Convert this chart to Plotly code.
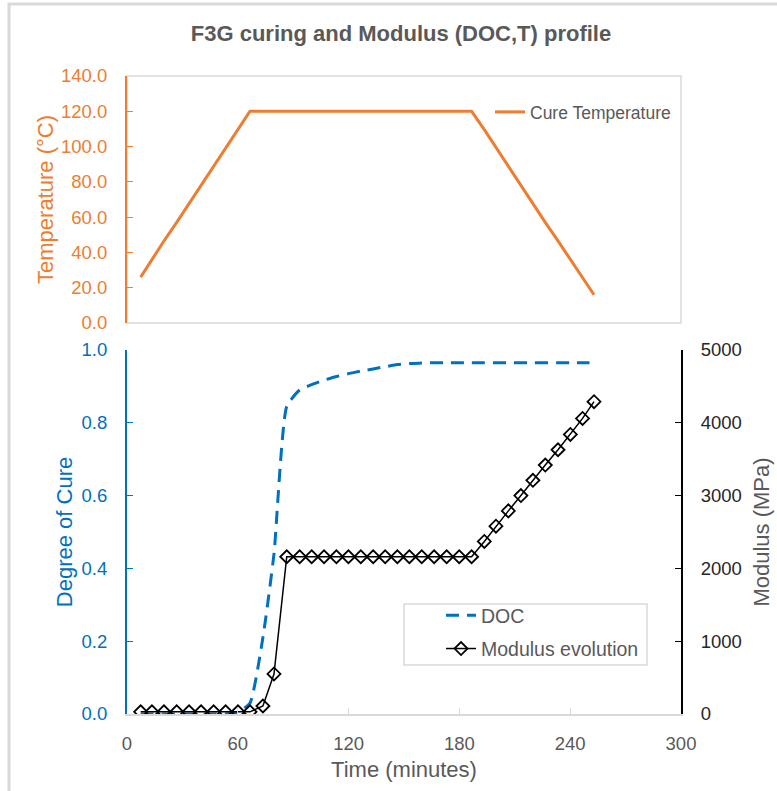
import plotly.graph_objects as go

# Cure cycle sampled every ~6.7 minutes
time_min = [7.4, 13.5, 20.0, 26.9, 33.6, 40.1, 46.9, 53.4, 60.1, 66.6,
            73.6, 79.6, 86.5, 93.5, 100.0, 106.7, 113.4, 119.9, 126.6, 133.3,
            139.8, 146.4, 152.9, 159.6, 166.3, 173.1, 179.9, 186.6, 193.5, 199.8,
            206.5, 213.3, 219.8, 226.5, 233.4, 240.1, 246.7, 252.9]

cure_temp_c = [26.0, 36.0, 46.5, 57.0, 67.5, 78.0, 88.5, 99.0, 109.5, 120.0,
               120.0, 120.0, 120.0, 120.0, 120.0, 120.0, 120.0, 120.0, 120.0, 120.0,
               120.0, 120.0, 120.0, 120.0, 120.0, 120.0, 120.0, 120.0, 109.6, 99.5,
               88.5, 78.0, 67.5, 57.0, 46.5, 36.0, 26.0, 16.0]

degree_of_cure = [0.0, 0.0, 0.0, 0.0, 0.0, 0.0, 0.0, 0.0, 0.005, 0.03,
                  0.21, 0.44, 0.845, 0.89, 0.905, 0.917, 0.927, 0.935, 0.942, 0.948,
                  0.954, 0.960, 0.963, 0.964, 0.965, 0.965, 0.965, 0.965, 0.965, 0.965,
                  0.965, 0.965, 0.965, 0.965, 0.965, 0.965, 0.965, 0.965]

modulus_mpa = [30, 30, 30, 30, 30, 30, 30, 30, 30, 30,
               110, 550, 2160, 2160, 2160, 2160, 2160, 2160, 2160, 2160,
               2160, 2160, 2160, 2160, 2160, 2160, 2160, 2160, 2370, 2580,
               2790, 3000, 3210, 3420, 3630, 3840, 4060, 4290]

x_ticks = [0, 60, 120, 180, 240, 300]

ORANGE = "#ED7D31"
BLUE = "#0070C0"
GRAY_TXT = "#595959"
GRID_GRAY = "#D9D9D9"
FONT = "Liberation Sans, Arial, sans-serif"

W, H = 777, 791
ML, MR, MT, MB = 127, 96, 76, 77


def fx(px):
    return (px - ML) / (W - ML - MR)


def fy(py):
    return (H - MB - py) / (H - MT - MB)


fig = go.Figure()

fig.add_trace(go.Scatter(
    x=time_min, y=cure_temp_c, name="Cure Temperature",
    mode="lines", line=dict(color=ORANGE, width=3),
    xaxis="x2", yaxis="y2", legend="legend",
))
fig.add_trace(go.Scatter(
    x=time_min, y=degree_of_cure, name="DOC", legendgroup="doc",
    mode="lines", line=dict(color=BLUE, width=3, dash="13px,8px",
                             shape="spline", smoothing=0.5),
    xaxis="x", yaxis="y", legend="legend2",
))
fig.add_trace(go.Scatter(
    x=time_min, y=modulus_mpa, name="Modulus evolution", legendgroup="mod",
    mode="lines+markers", line=dict(color="black", width=1.5),
    marker=dict(symbol="diamond-open", size=10, color="black",
                line=dict(color="black", width=1.8)),
    xaxis="x", yaxis="y3", legend="legend2",
))

tick_font = dict(family=FONT, size=18.5)
TITLE_SIZE = 22

fig.update_layout(
    width=W, height=H,
    margin=dict(l=ML, r=MR, t=MT, b=MB, autoexpand=False),
    paper_bgcolor="white", plot_bgcolor="white",
    font=dict(family=FONT, color=GRAY_TXT),
    title=dict(text="<b>F3G curing and Modulus (DOC,T) profile</b>",
               x=fx(401), xref="paper", xanchor="center",
               y=1 - 33 / H, yref="container", yanchor="middle",
               font=dict(family=FONT, size=22, color=GRAY_TXT)),
    xaxis=dict(domain=[0, 1], anchor="y", range=[0, 300], automargin=False,
               tickvals=x_ticks, showgrid=False, zeroline=False,
               showline=True, linecolor=GRID_GRAY, linewidth=1.5,
               ticks="inside", ticklen=6, tickcolor=GRID_GRAY,
               tickfont=dict(tick_font, color=GRAY_TXT), ticklabelstandoff=12,
               title=dict(text="Time (minutes)", standoff=9,
                          font=dict(family=FONT, size=TITLE_SIZE, color=GRAY_TXT))),
    yaxis=dict(domain=[0, fy(350)], anchor="x", range=[0, 1], automargin=False,
               dtick=0.2, tickformat=".1f", showgrid=False, zeroline=False,
               showline=True, linecolor=BLUE, linewidth=2,
               ticks="inside", ticklen=6, tickcolor=BLUE,
               tickfont=dict(tick_font, color=BLUE), ticklabelstandoff=14,
               title=dict(text="Degree of Cure", standoff=3,
                          font=dict(family=FONT, size=TITLE_SIZE, color=BLUE))),
    yaxis3=dict(overlaying="y", side="right", anchor="x", range=[0, 5000],
                automargin=False,
                dtick=1000, showgrid=False, zeroline=False,
                showline=True, linecolor="black", linewidth=2,
                ticks="inside", ticklen=6, tickcolor="black",
                tickfont=dict(tick_font, color="#262626"), ticklabelstandoff=14,
                title=dict(text="Modulus (MPa)", standoff=13,
                           font=dict(family=FONT, size=TITLE_SIZE, color=GRAY_TXT))),
    xaxis2=dict(domain=[0, 1], anchor="y2", range=[0, 300], automargin=False,
                showticklabels=False, showgrid=False, zeroline=False,
                showline=False, ticks=""),
    yaxis2=dict(domain=[fy(323), 1], anchor="x2", range=[0, 140], automargin=False,
                dtick=20, tickformat=".1f", showgrid=False, zeroline=False,
                showline=True, linecolor=ORANGE, linewidth=2,
                ticks="inside", ticklen=6, tickcolor=ORANGE,
                tickfont=dict(tick_font, color=ORANGE), ticklabelstandoff=14,
                title=dict(text="Temperature (°C)", standoff=1,
                           font=dict(family=FONT, size=TITLE_SIZE, color=ORANGE))),
    legend=dict(x=fx(490), y=fy(112), xanchor="left", yanchor="middle",
                bgcolor="rgba(0,0,0,0)", borderwidth=0,
                font=dict(family=FONT, size=17.5, color=GRAY_TXT)),
    legend2=dict(x=fx(441), y=fy(596), xanchor="left", yanchor="top",
                 bgcolor="rgba(0,0,0,0)", borderwidth=0, tracegroupgap=5,
                 font=dict(family=FONT, size=19.5, color=GRAY_TXT)),
    showlegend=True,
)

# Frame around the temperature panel
fig.add_shape(type="rect", xref="paper", yref="paper",
              x0=0, x1=1, y0=fy(323), y1=1,
              line=dict(color=GRID_GRAY, width=1.5), layer="below")
# Frame around the lower legend
fig.add_shape(type="rect", xref="paper", yref="paper",
              x0=fx(404), x1=fx(647), y0=fy(604), y1=fy(665),
              line=dict(color=GRID_GRAY, width=1.5), layer="below")
# Chart-area border (left and top edges)
fig.add_shape(type="path", xref="paper", yref="paper",
              path=f"M {fx(9)} {fy(H + 5)} L {fx(9)} {fy(4)} L {fx(W + 5)} {fy(4)}",
              line=dict(color=GRID_GRAY, width=3))

fig.write_html("out.html")
